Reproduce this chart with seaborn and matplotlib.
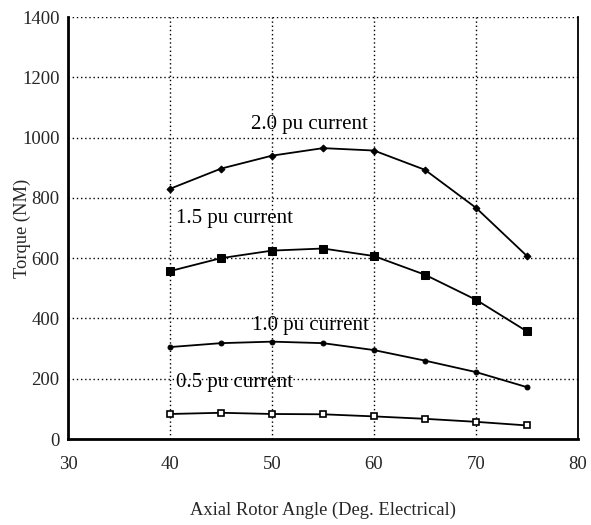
import matplotlib
matplotlib.use("Agg")
import matplotlib.pyplot as plt
from matplotlib.ticker import MultipleLocator
import seaborn as sns
import pandas as pd

angles = [40, 45, 50, 55, 60, 65, 70, 75]
torque_2_0 = [830, 897, 940, 965, 957, 893, 767, 607]
torque_1_5 = [557, 600, 625, 632, 607, 545, 462, 357]
torque_1_0 = [305, 318, 323, 318, 295, 260, 222, 172]
torque_0_5 = [83, 87, 83, 82, 75, 67, 57, 45]
series_labels = ["2.0 pu current", "1.5 pu current", "1.0 pu current", "0.5 pu current"]
label_pos = [(47.9, 1042), (40.6, 730), (48.0, 378), (40.6, 186)]

sns.set_style("white")
plt.rcParams["font.family"] = ["Liberation Serif", "DejaVu Serif"]

fig = plt.figure(figsize=(5.91, 5.25), dpi=100)
ax = fig.add_axes([0.115, 0.1638, 0.863, 0.8038])

styles = [
    dict(marker="D", markersize=3.5, markerfacecolor="black", markeredgecolor="black"),
    dict(marker="s", markersize=6, markerfacecolor="black", markeredgecolor="black"),
    dict(marker="o", markersize=3.5, markerfacecolor="black", markeredgecolor="black"),
    dict(marker="s", markersize=5, markerfacecolor="white", markeredgecolor="black", markeredgewidth=1.2),
]
for vals, st in zip([torque_2_0, torque_1_5, torque_1_0, torque_0_5], styles):
    df = pd.DataFrame({"angle": angles, "torque": vals})
    sns.lineplot(data=df, x="angle", y="torque", ax=ax, color="black", linewidth=1.3, **st)

for lab, (x, y) in zip(series_labels, label_pos):
    ax.text(x, y, lab, fontsize=15, ha="left", va="center", color="black")

ax.set_xlim(30, 80)
ax.set_ylim(0, 1400)
ax.xaxis.set_major_locator(MultipleLocator(10))
ax.yaxis.set_major_locator(MultipleLocator(200))
ax.xaxis.set_minor_locator(MultipleLocator(5))
ax.yaxis.set_minor_locator(MultipleLocator(100))
ax.grid(True, which="major", linestyle=(0, (1, 2)), color="black", linewidth=1.0)
ax.tick_params(axis="both", which="major", direction="out", length=4, width=1.2, labelsize=13.5, color="black")
ax.tick_params(axis="both", which="minor", direction="in", length=3, width=1.0, color="black")
ax.tick_params(axis="x", pad=8)
ax.tick_params(axis="y", pad=2)
for s in ["left", "bottom"]:
    ax.spines[s].set_linewidth(2.0)
    ax.spines[s].set_color("black")
ax.spines["right"].set_linewidth(1.3)
ax.spines["right"].set_color("black")
ax.spines["top"].set_visible(False)

ax.set_xlabel("Axial Rotor Angle (Deg. Electrical)", fontsize=13.3)
ax.set_ylabel("Torque (NM)", fontsize=13.3)
ax.xaxis.set_label_coords(0.5, -0.168)
ax.yaxis.set_label_coords(-0.09, 0.5)
ax.xaxis.label.set_va("center")
ax.yaxis.label.set_va("center")

fig.savefig("out.png", dpi=100)
